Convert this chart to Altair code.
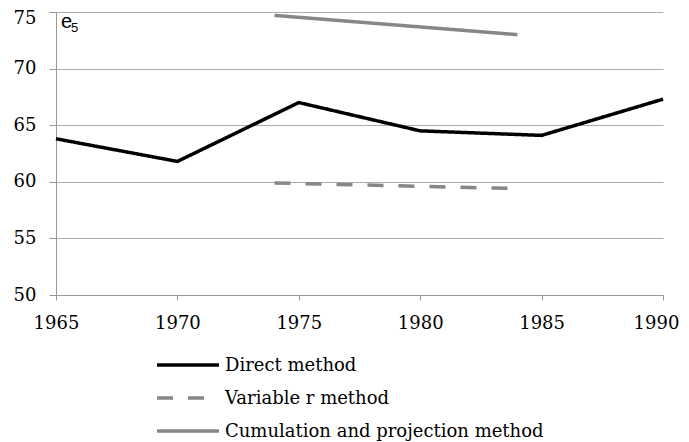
import altair as alt
import pandas as pd

direct_years = [1965, 1970, 1975, 1980, 1985, 1990]
direct_vals = [63.8, 61.8, 67.0, 64.5, 64.1, 67.3]
varr_years = [1974, 1984]
varr_vals = [59.9, 59.4]
cum_years = [1974, 1984]
cum_vals = [74.7, 73.0]
series_names = ["Direct method", "Variable r method", "Cumulation and projection method"]
x_ticks = [1965, 1970, 1975, 1980, 1985, 1990]
y_ticks = [50, 55, 60, 65, 70, 75]

rows = []
for y, v in zip(direct_years, direct_vals):
    rows.append({"series": series_names[0], "year": y, "value": v})
for y, v in zip(varr_years, varr_vals):
    rows.append({"series": series_names[1], "year": y, "value": v})
for y, v in zip(cum_years, cum_vals):
    rows.append({"series": series_names[2], "year": y, "value": v})
df = pd.DataFrame(rows)
legend_df = pd.DataFrame({"series": series_names})

FONT = "DejaVu Serif"
SANS = "Liberation Sans"
colors = ["#000000", "#878787", "#878787"]
dashes = [[1, 0], [16, 15], [1, 0]]

color_scale = alt.Scale(domain=series_names, range=colors)
dash_scale = alt.Scale(domain=series_names, range=dashes)

lines = alt.Chart(df).mark_line(strokeWidth=3.5).encode(
    x=alt.X("year:Q", scale=alt.Scale(domain=[1965, 1990], nice=False, zero=False),
            axis=alt.Axis(values=x_ticks, format="d", grid=False, title=None,
                          labelFont=FONT, labelFontSize=18, labelColor="#000",
                          labelPadding=14, tickSize=5, tickColor="#999",
                          domainColor="#999", labelFlush=False,
                          labelOffset={"condition": {"test": "datum.value == 1990", "value": -7},
                                       "value": 0})),
    y=alt.Y("value:Q", scale=alt.Scale(domain=[50, 75], nice=False, zero=False),
            axis=alt.Axis(values=y_ticks, grid=True, gridColor="#ababab", title=None,
                          labelFont=FONT, labelFontSize=18, labelColor="#000",
                          labelPadding=13, tickSize=7, tickColor="#999",
                          domainColor="#999",
                          labelOffset={"condition": {"test": "datum.value == 75", "value": 6},
                                       "value": 0})),
    color=alt.Color("series:N", scale=color_scale, legend=None),
    strokeDash=alt.StrokeDash("series:N", scale=dash_scale, legend=None),
    detail="series:N",
)

leg_y = alt.Y("series:N", scale=alt.Scale(type="point", domain=series_names,
                                          range=[353, 419], padding=0), axis=None)

leg_rules = alt.Chart(legend_df).mark_rule(strokeWidth=3.5).encode(
    x=alt.value(101), x2=alt.value(163), y=leg_y,
    color=alt.Color("series:N", scale=color_scale, legend=None),
    strokeDash=alt.StrokeDash("series:N", scale=dash_scale, legend=None),
)
leg_text = alt.Chart(legend_df).mark_text(font=FONT, fontSize=18, align="left",
                                          baseline="middle", color="#000", dy=1).encode(
    x=alt.value(169), y=leg_y, text="series:N",
)
legend_layer = alt.layer(leg_rules, leg_text)

e_lab = alt.Chart(pd.DataFrame({"t": ["e"]})).mark_text(
    font=SANS, fontSize=20, align="left", baseline="alphabetic", color="#000").encode(
    x=alt.value(5), y=alt.value(16), text="t:N")
e_sub = alt.Chart(pd.DataFrame({"t": ["5"]})).mark_text(
    font=SANS, fontSize=13, align="left", baseline="alphabetic", color="#000").encode(
    x=alt.value(15), y=alt.value(20), text="t:N")

chart = alt.layer(lines, legend_layer, e_lab, e_sub).resolve_scale(y="independent").properties(
    width=607, height=283,
    padding={"left": 48, "top": 4, "right": 18, "bottom": 147},
    autosize=alt.AutoSizeParams(type="none"),
).configure_view(stroke=None)

chart.save("out.html", embed_options={"renderer": "svg", "actions": False})
